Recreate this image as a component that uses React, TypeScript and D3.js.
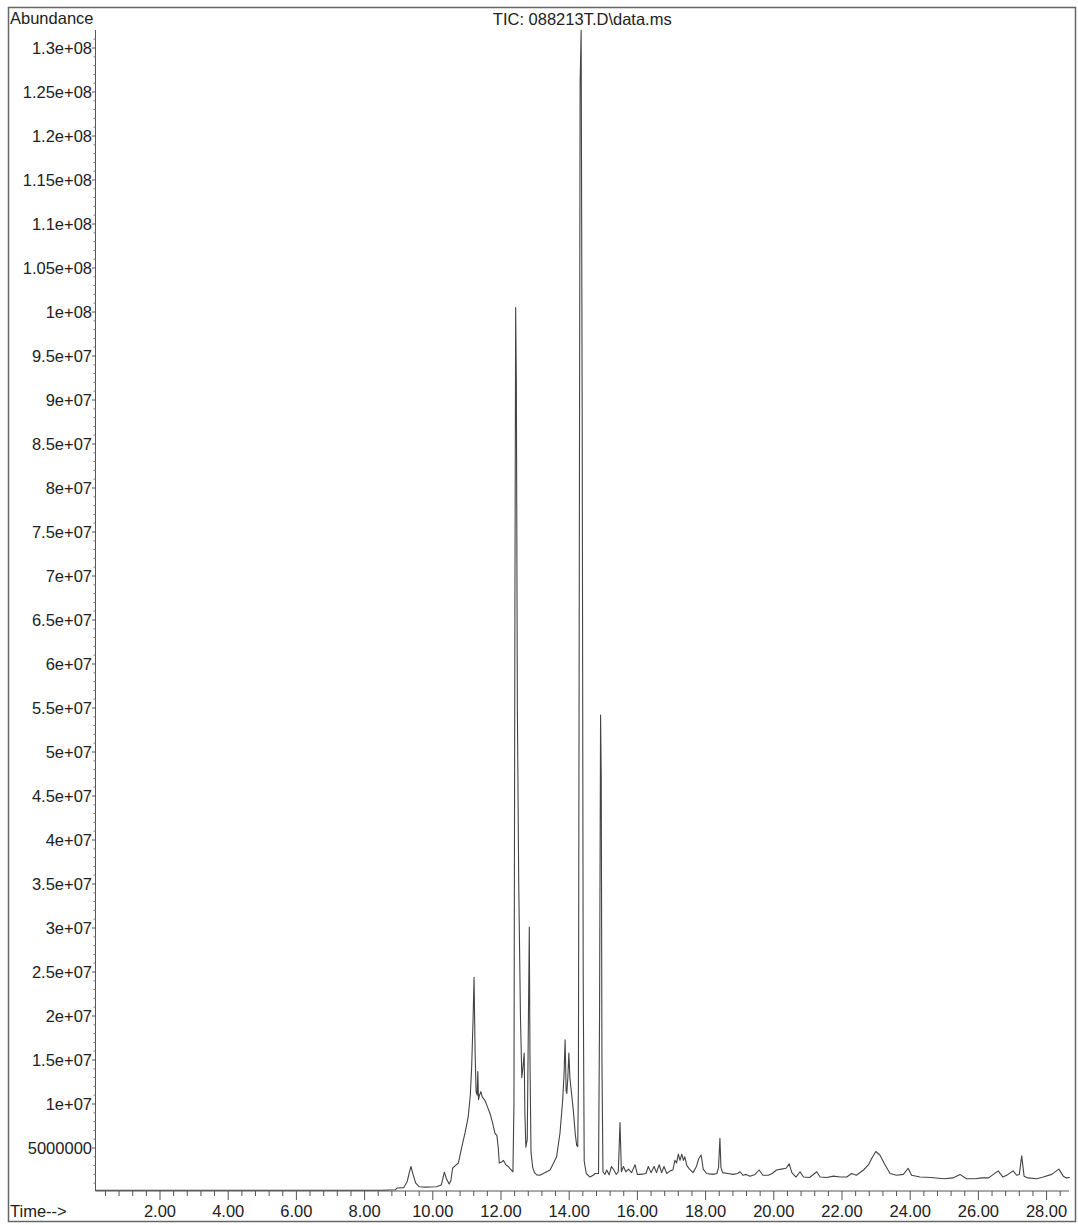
import React from "react";
import * as d3 from "d3";

// Retention time (min) and abundance (×1e6)
const times: number[] = [
  0.12, 8.5, 8.9, 8.95, 9.15, 9.25, 9.31, 9.36, 9.42, 9.5, 9.6, 9.8, 10.1, 10.25, 10.34, 10.4, 10.48, 10.53, 10.58, 10.66,
  10.75, 10.85, 10.95, 11.04, 11.1, 11.14, 11.18, 11.21, 11.24, 11.27, 11.3, 11.32, 11.34, 11.37, 11.41, 11.45, 11.53, 11.6, 11.68, 11.75,
  11.82, 11.88, 11.92, 11.95, 12.02, 12.07, 12.14, 12.21, 12.3, 12.35, 12.38, 12.41, 12.43, 12.45, 12.48, 12.52, 12.57, 12.61, 12.64, 12.68,
  12.7, 12.73, 12.77, 12.8, 12.83, 12.85, 12.88, 12.93, 12.98, 13.05, 13.14, 13.24, 13.34, 13.44, 13.53, 13.63, 13.73, 13.81, 13.85, 13.88,
  13.91, 13.93, 13.96, 13.99, 14.02, 14.06, 14.12, 14.18, 14.22, 14.25, 14.27, 14.3, 14.32, 14.35, 14.38, 14.41, 14.44, 14.5, 14.61, 14.7,
  14.76, 14.86, 14.89, 14.92, 14.94, 14.96, 14.99, 15.05, 15.1, 15.17, 15.24, 15.31, 15.38, 15.44, 15.49, 15.53, 15.59, 15.66, 15.74, 15.83,
  15.93, 16.0, 16.1, 16.25, 16.32, 16.4, 16.49, 16.56, 16.64, 16.71, 16.78, 16.86, 16.96, 17.04, 17.1, 17.15, 17.2, 17.25, 17.3, 17.35,
  17.39, 17.45, 17.53, 17.63, 17.73, 17.8, 17.87, 17.93, 18.03, 18.22, 18.33, 18.38, 18.42, 18.45, 18.5, 18.65, 18.81, 18.94, 19.01, 19.1,
  19.19, 19.3, 19.45, 19.57, 19.68, 19.84, 19.95, 20.08, 20.22, 20.36, 20.45, 20.53, 20.65, 20.77, 20.87, 21.05, 21.26, 21.36, 21.55, 21.75,
  21.95, 22.14, 22.28, 22.42, 22.63, 22.78, 22.87, 22.99, 23.11, 23.26, 23.41, 23.6, 23.8, 23.94, 24.04, 24.29, 24.6, 25.0, 25.25, 25.46,
  25.65, 25.9, 26.1, 26.3, 26.58, 26.72, 26.87, 27.02, 27.12, 27.2, 27.27, 27.34, 27.45, 27.71, 27.9, 28.15, 28.36, 28.49, 28.58, 28.68,
];
const abundanceM: number[] = [
  0.2, 0.2, 0.25, 0.45, 0.5, 1.2, 2.2, 2.9, 2.0, 1.0, 0.6, 0.55, 0.6, 0.8, 2.25, 1.5, 0.9, 1.3, 2.7, 3.0,
  3.3, 5.1, 6.8, 8.6, 11.0, 14.2, 19.5, 24.4, 16.0, 11.4, 11.0, 13.7, 10.5, 11.0, 11.4, 10.8, 10.4, 9.7, 8.9, 7.9,
  6.7, 6.4, 5.0, 3.3, 3.4, 3.6, 3.1, 2.9, 2.5, 2.3, 10.0, 70.0, 100.5, 92.0, 55.0, 35.0, 20.0, 13.0, 14.0, 15.8,
  9.0, 5.1, 6.0, 18.0, 30.1, 15.0, 4.5, 2.8, 2.2, 1.95, 1.9, 2.1, 2.3, 2.5, 3.2, 4.0, 6.7, 10.5, 13.5, 17.3,
  11.5, 11.2, 13.0, 15.8, 13.0, 11.5, 9.3, 6.5, 5.3, 5.15, 12.0, 80.0, 126.0, 132.0, 90.0, 25.0, 3.5, 2.1, 1.7, 1.9,
  2.1, 2.1, 20.0, 54.2, 47.0, 15.0, 2.3, 2.0, 2.5, 1.95, 2.9, 2.5, 2.0, 2.3, 7.9, 2.3, 2.9, 2.3, 2.6, 2.2,
  3.1, 2.0, 2.0, 2.1, 2.9, 2.2, 2.9, 2.2, 3.1, 2.2, 2.9, 2.1, 2.4, 2.5, 3.6, 3.3, 4.3, 3.6, 4.3, 3.6,
  4.0, 3.0, 2.6, 2.2, 2.9, 3.8, 4.2, 2.6, 2.1, 2.0, 2.1, 2.8, 6.1, 2.8, 2.2, 2.1, 2.0, 2.1, 2.3, 1.9,
  2.0, 1.8, 2.0, 2.5, 1.9, 1.9, 2.1, 2.5, 2.6, 2.7, 3.2, 2.2, 1.7, 2.3, 1.7, 1.65, 2.3, 1.7, 1.65, 1.8,
  1.7, 1.7, 2.1, 1.9, 2.5, 3.1, 3.8, 4.6, 4.2, 3.1, 2.1, 1.9, 2.0, 2.7, 1.9, 1.7, 1.65, 1.5, 1.6, 2.0,
  1.5, 1.5, 1.6, 1.6, 2.4, 1.7, 2.0, 2.4, 1.9, 2.0, 4.1, 1.8, 1.6, 1.5, 1.7, 2.0, 2.6, 1.8, 1.6, 1.65,
];

const yTickValues: number[] = [
  5000000, 1e7, 1.5e7, 2e7, 2.5e7, 3e7, 3.5e7, 4e7, 4.5e7, 5e7, 5.5e7, 6e7, 6.5e7, 7e7, 7.5e7, 8e7, 8.5e7, 9e7, 9.5e7,
  1e8, 1.05e8, 1.1e8, 1.15e8, 1.2e8, 1.25e8, 1.3e8,
];
const yTickLabels: string[] = [
  "5000000", "1e+07", "1.5e+07", "2e+07", "2.5e+07", "3e+07", "3.5e+07", "4e+07", "4.5e+07", "5e+07", "5.5e+07", "6e+07",
  "6.5e+07", "7e+07", "7.5e+07", "8e+07", "8.5e+07", "9e+07", "9.5e+07", "1e+08", "1.05e+08", "1.1e+08", "1.15e+08",
  "1.2e+08", "1.25e+08", "1.3e+08",
];
const xTickValues: number[] = [2, 4, 6, 8, 10, 12, 14, 16, 18, 20, 22, 24, 26, 28];
const xTickLabels: string[] = ["2.00", "4.00", "6.00", "8.00", "10.00", "12.00", "14.00", "16.00", "18.00", "20.00", "22.00", "24.00", "26.00", "28.00"];

const title = "TIC: 088213T.D\\data.ms";

export default function App() {
  const W = 1078, H = 1225;
  const left = 95.5, right = 1069, top = 30, bottom = 1191;
  const x = d3.scaleLinear().domain([0, 26]).range([91.8, 91.8 + 26 * 34.1]);
  const tMin = x.invert(left), tMax = x.invert(right);
  const y = d3.scaleLinear().domain([0, 1.32e8]).range([1192, 1192 - (1.32e8 / 5e6) * 44]);

  const data = times.map((t, i) => [t, abundanceM[i] * 1e6] as [number, number]);
  const line = d3
    .line<[number, number]>()
    .x((d) => x(d[0]))
    .y((d) => Math.max(top, y(d[1])));
  const path = line(data) || "";

  const minorX: number[] = d3.range(0.4, tMax, 0.4).filter((v) => Math.abs(v / 2 - Math.round(v / 2)) > 0.01);
  const minorY: number[] = d3.range(1e6, 1.32e8, 1e6).filter((v) => v % 5e6 !== 0);

  const font = "'Liberation Sans', Arial, sans-serif";
  const txt = "#222";

  return (
    <svg width={W} height={H} style={{ position: "absolute", left: 0, top: 0, background: "#fff" }} fontFamily={font}>
      <rect x={8.5} y={7.5} width={1067} height={1214} fill="none" stroke="#666" strokeWidth={1.5} />
      <text x={10} y={24} fontSize={16.5} fill={txt}>Abundance</text>
      <text x={(left + right) / 2} y={25} fontSize={16.5} fill={txt} textAnchor="middle">{title}</text>
      <text x={10} y={1217} fontSize={16.5} fill={txt}>Time--&gt;</text>

      {/* y axis */}
      <line x1={left} x2={left} y1={top} y2={bottom} stroke="#555" strokeWidth={1} />
      {minorY.map((v) => (
        <line key={"my" + v} x1={left - 2} x2={left} y1={y(v)} y2={y(v)} stroke="#777" strokeWidth={1} />
      ))}
      {yTickValues.map((v, i) => (
        <g key={"y" + v}>
          <line x1={left - 3.5} x2={left} y1={y(v)} y2={y(v)} stroke="#555" strokeWidth={1} />
          <text x={92} y={y(v) + 6} fontSize={16.5} fill={txt} textAnchor="end">{yTickLabels[i]}</text>
        </g>
      ))}

      {/* x axis */}
      <line x1={left} x2={right} y1={bottom} y2={bottom} stroke="#555" strokeWidth={1} />
      {minorX.map((v) => (
        <line key={"mx" + v.toFixed(2)} x1={x(v)} x2={x(v)} y1={bottom} y2={bottom + 5} stroke="#555" strokeWidth={1} />
      ))}
      {xTickValues.map((v, i) => (
        <g key={"x" + v}>
          <line x1={x(v)} x2={x(v)} y1={bottom} y2={bottom + 9} stroke="#555" strokeWidth={1} />
          <text x={x(v)} y={1217} fontSize={16.5} fill={txt} textAnchor="middle">{xTickLabels[i]}</text>
        </g>
      ))}

      <path d={path} fill="none" stroke="#444" strokeWidth={1.1} strokeLinejoin="round" />
    </svg>
  );
}
